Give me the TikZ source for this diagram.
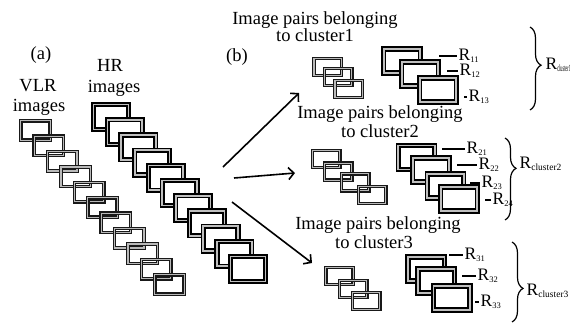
\documentclass[tikz,border=0pt]{standalone}
\usepackage{fontspec}
\setmainfont{Liberation Serif}
\usetikzlibrary{arrows.meta,decorations.pathreplacing}

% R with a small lowered index
\newcommand\Rsb[1]{R\raisebox{-0.3ex}{\fontsize{8.5}{9}\selectfont #1}}
\newcommand\Rcl[2][1]{R\raisebox{-0.3ex}{\scalebox{#1}[1]{\fontsize{9.5}{10}\selectfont cluster#2}}}

\tikzset{
  lrbox/.style={rectangle, draw=black!90, line width=1.15pt, double=gray!55,
    double distance=1.3pt, inner sep=0pt, minimum width=29.4pt, minimum height=19.4pt},
  hrbox/.style={rectangle, draw=black, line width=1.8pt, double=gray!50,
    double distance=1.6pt, fill=white, inner sep=0pt,
    minimum width=34.8pt, minimum height=24.8pt},
  pairbox/.style={lrbox, minimum width=27.4pt, minimum height=17pt},
  clbox/.style={hrbox, minimum width=36.5pt, minimum height=24pt},
  lab/.style={inner sep=0pt, anchor=base},
  rlab/.style={inner xsep=1.5pt, inner ysep=0pt, anchor=west, text height=10pt,
    text depth=1pt, font=\fontsize{17.5}{18}\selectfont},
  link/.style={line width=1.1pt},
  flow/.style={line width=1.6pt, -{Straight Barb[length=5.5pt,width=12pt]}},
  grp/.style={decorate, line width=1.2pt},
}

\begin{document}
\begin{tikzpicture}[x=1pt, y=-1pt, font=\fontsize{18.5}{19}\selectfont]
\useasboundingbox (0,0) rectangle (570,322);

% low-resolution stack (open frames)
\foreach \i in {0,...,10}
  \node[lrbox] (v\i) at ({35.5+13.4*\i},{130.5+15.4*\i}) {};

% high-resolution stack (each frame covers the previous one)
\foreach \i in {0,...,10}
  \node[hrbox] (h\i) at ({111+13.7*\i},{117+15.2*\i}) {};

% stack captions
\node[lab] (ta) at (41,59) {(a)};
\node[lab] (tv1) at (38,91) {VLR};
\node[lab] (tv2) at (39,111) {images};
\node[lab] (th1) at (110,71) {HR};
\node[lab] (th2) at (114,92) {images};
\node[lab] (tb) at (237,61) {(b)};

% split arrows
\coordinate (s1) at (223,167); \coordinate (e1) at (299,93);
\coordinate (s2) at (234,178); \coordinate (e2) at (295,173);
\coordinate (s3) at (232,202); \coordinate (e3) at (312,263);
\draw[flow] (s1) -- (e1);
\draw[flow] (s2) -- (e2);
\draw[flow] (s3) -- (e3);

% cluster 1
\node[lab] (c1a) at (315,24) {Image pairs belonging};
\node[lab] (c1b) at (315,41) {to cluster1};
\node[pairbox] (p11) at (327.7,67) {};
\node[pairbox] (p12) at (338,77) {};
\node[pairbox] (p13) at (348.7,89) {};
\node[clbox] (q11) at (402,61) {};
\node[clbox] (q12) at (420,74) {};
\node[clbox] (q13) at (438,90) {};
\coordinate (d11) at (439,56); \node[rlab] (r11) at (457,56) {\Rsb{11}};
\coordinate (d12) at (447,71); \node[rlab] (r12) at (458,71) {\Rsb{12}};
\coordinate (d13) at (464,97); \node[rlab] (r13) at (467,97) {\Rsb{13}};
\draw[link] (d11) -- (r11.west);
\draw[link] (d12) -- (r12.west);
\draw[link] (d13) -- (r13.west);
\coordinate (b1a) at (530,27); \coordinate (b1b) at (530,110);
\draw[grp, decoration={brace, amplitude=11pt, aspect=0.46}] (b1a) -- (b1b);
\node[rlab] (k1) at (544,65) {\Rcl[0.45]{1}};

% cluster 2
\node[lab] (c2a) at (380,118) {Image pairs belonging};
\node[lab] (c2b) at (380,137) {to cluster2};
\node[pairbox] (p21) at (326,159) {};
\node[pairbox] (p22) at (338,171.7) {};
\node[pairbox] (p23) at (355,182.3) {};
\node[pairbox] (p24) at (372,195) {};
\node[clbox] (q21) at (416.5,157.5) {};
\node[clbox] (q22) at (431,170) {};
\node[clbox] (q23) at (445.5,186) {};
\node[clbox] (q24) at (459,199) {};
\coordinate (d21) at (442,149); \node[rlab] (r21) at (465,149) {\Rsb{21}};
\coordinate (d22) at (457,165); \node[rlab] (r22) at (477,165) {\Rsb{22}};
\coordinate (d23) at (470,183); \node[rlab] (r23) at (480,183) {\Rsb{23}};
\coordinate (d24) at (485,200); \node[rlab] (r24) at (491,200) {\Rsb{24}};
\draw[link] (d21) -- (r21.west);
\draw[link] (d22) -- (r22.west);
\draw[link] (d23) -- (r23.west);
\draw[link] (d24) -- (r24.west);
\coordinate (b2a) at (505,138); \coordinate (b2b) at (505,220);
\draw[grp, decoration={brace, amplitude=11pt, aspect=0.37}] (b2a) -- (b2b);
\node[rlab] (k2) at (518,164) {\Rcl{2}};

% cluster 3
\node[lab] (c3a) at (378,229) {Image pairs belonging};
\node[lab] (c3b) at (374,248) {to cluster3};
\node[pairbox] (p31) at (339.5,276) {};
\node[pairbox] (p32) at (353,289) {};
\node[pairbox] (p33) at (366,301) {};
\node[clbox] (q31) at (426.3,269) {};
\node[clbox] (q32) at (436.3,281) {};
\node[clbox] (q33) at (451.7,298) {};
\coordinate (d31) at (449,255); \node[rlab] (r31) at (463,255) {\Rsb{31}};
\coordinate (d32) at (462,276); \node[rlab] (r32) at (476,276) {\Rsb{32}};
\coordinate (d33) at (475,302); \node[rlab] (r33) at (479,302) {\Rsb{33}};
\draw[link] (d31) -- (r31.west);
\draw[link] (d32) -- (r32.west);
\draw[link] (d33) -- (r33.west);
\coordinate (b3a) at (512,242); \coordinate (b3b) at (512,322);
\draw[grp, decoration={brace, amplitude=11pt, aspect=0.58}] (b3a) -- (b3b);
\node[rlab] (k3) at (525,291) {\Rcl{3}};
\end{tikzpicture}
\end{document}
